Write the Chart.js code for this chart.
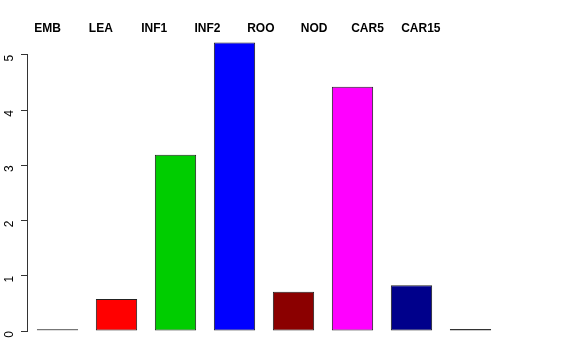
<!DOCTYPE html>
<html>
<head>
<meta charset="utf-8">
<script src="https://cdn.jsdelivr.net/npm/chart.js@4"></script>
<style>
  html, body { margin: 0; padding: 0; background: #fff; }
</style>
</head>
<body>
<canvas id="chart" width="576" height="360"></canvas>
<script>
// datos
const tissues = ["EMB", "LEA", "INF1", "INF2", "ROO", "NOD", "CAR5", "CAR15"];
const values = [0, 0.58, 3.19, 5.22, 0.71, 4.42, 0.83, 0.01];
const barColors = ["#777777", "#FF0000", "#00CD00", "#0000FF", "#8B0000", "#FF00FF", "#00008B", "#333333"];
const edgeColors = ["#777777", "#222", "#222", "#222", "#222", "#222", "#222", "#333333"];
const yTicks = [0, 1, 2, 3, 4, 5];

// etiquetas arriba y linea del eje
const topLabels = {
  id: "topLabels",
  afterDraw(chart) {
    const ctx = chart.ctx;
    const x = chart.scales.x;
    const y = chart.scales.y;
    ctx.save();
    ctx.fillStyle = "#000";
    ctx.font = "bold 12px 'Liberation Sans', Arial, sans-serif";
    ctx.textAlign = "center";
    ctx.textBaseline = "middle";
    tissues.forEach(function (t, i) {
      const px = x.getPixelForValue(i) * 0.904 - 4.5;
      ctx.fillText(t, px, 29);
    });
    // eje y de 0 a 5
    ctx.strokeStyle = "#333";
    ctx.lineWidth = 1;
    ctx.beginPath();
    ctx.moveTo(27.5, y.getPixelForValue(yTicks[0]));
    ctx.lineTo(27.5, y.getPixelForValue(yTicks[yTicks.length - 1]));
    ctx.stroke();
    ctx.restore();
  },
};

new Chart(document.getElementById("chart"), {
  type: "bar",
  data: {
    labels: tissues,
    datasets: [{
      data: values,
      backgroundColor: barColors,
      borderColor: edgeColors,
      borderWidth: 1,
      borderSkipped: false,
      minBarLength: 2,
      barPercentage: 0.7,
      categoryPercentage: 1,
    }],
  },
  options: {
    responsive: false,
    animation: false,
    devicePixelRatio: 1,
    layout: { padding: { top: 31, bottom: 29, left: 0, right: 76 } },
    plugins: { legend: { display: false }, tooltip: { enabled: false } },
    scales: {
      x: { display: false },
      y: {
        min: 0,
        max: 5.43,
        afterFit: function (scale) { scale.width = 28; },
        afterBuildTicks: function (scale) {
          scale.ticks = yTicks.map(v => ({ value: v }));
        },
        border: { display: false },
        grid: {
          drawOnChartArea: false,
          drawTicks: true,
          tickLength: 7,
          color: "#333",
        },
        ticks: {
          includeBounds: false,
          minRotation: 90,
          maxRotation: 90,
          padding: 11,
          color: "#000",
          font: { family: "'Liberation Sans', Arial, sans-serif", size: 12 },
        },
      },
    },
  },
  plugins: [topLabels],
});
</script>
</body>
</html>
